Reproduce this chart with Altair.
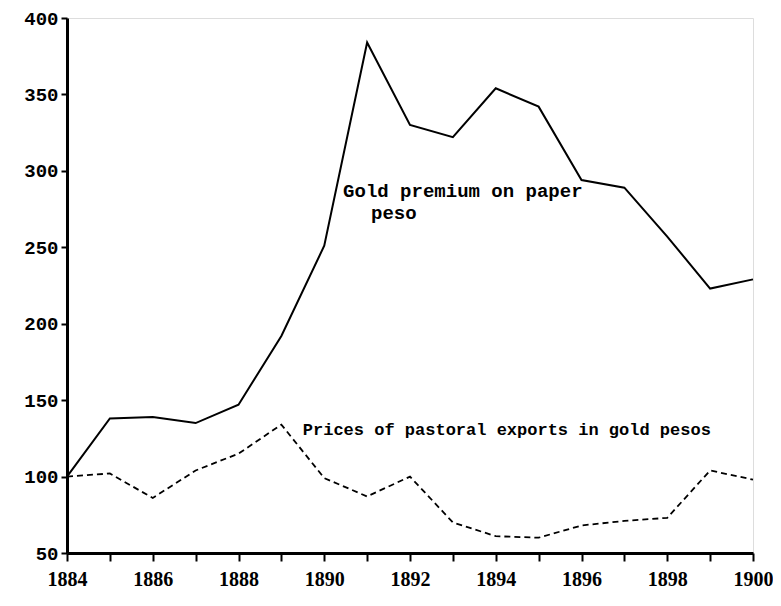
import altair as alt
import pandas as pd

years = list(range(1884, 1901))
gold_premium = [100, 138, 139, 135, 147, 192, 251, 384, 330, 322, 354, 342, 294, 289, 257, 223, 229]
pastoral = [100, 102, 86, 104, 115, 134, 99, 87, 100, 70, 61, 60, 68, 71, 73, 104, 98]

label_text = ["Gold premium on paper", "peso", "Prices of pastoral exports in gold pesos"]
label_year = [1890.44, 1891.09, 1889.5]
label_value = [287, 272.5, 130.4]
label_size = [19, 19, 17]

df = pd.DataFrame({"year": years, "gold": gold_premium, "pastoral": pastoral})
labels = pd.DataFrame({"text": label_text, "year": label_year, "value": label_value, "size": label_size})

xscale = alt.Scale(domain=[1884, 1900], nice=False, zero=False)
yscale = alt.Scale(domain=[50, 400], nice=False, zero=False)

xaxis = alt.Axis(values=years, labelExpr="datum.value % 2 == 0 ? datum.label : ''",
                 format="d", title=None, grid=False, tickSize=8, tickWidth=2, tickColor="black",
                 domainColor="black", domainWidth=3, labelFont="Liberation Serif", labelFontWeight="bold",
                 labelFontSize=20, labelColor="black", labelPadding=8, labelFlush=False)
yaxis = alt.Axis(values=[50, 100, 150, 200, 250, 300, 350, 400], title=None, grid=False,
                 tickSize=6, tickWidth=2, tickColor="black", domainColor="black", domainWidth=3,
                 labelFont="Liberation Mono", labelFontWeight="bold", labelFontSize=19,
                 labelColor="black", labelPadding=3)

base = alt.Chart(df)
gold_line = base.mark_line(color="black", strokeWidth=2).encode(
    x=alt.X("year:Q", scale=xscale, axis=xaxis),
    y=alt.Y("gold:Q", scale=yscale, axis=yaxis),
)
past_line = base.mark_line(color="black", strokeWidth=1.8, strokeDash=[6, 4]).encode(
    x=alt.X("year:Q", scale=xscale),
    y=alt.Y("pastoral:Q", scale=yscale),
)
text = alt.Chart(labels).mark_text(align="left", baseline="middle", font="Liberation Mono",
                                   fontWeight="bold", color="black").encode(
    x=alt.X("year:Q", scale=xscale),
    y=alt.Y("value:Q", scale=yscale),
    text="text:N",
    size=alt.Size("size:Q", scale=None, legend=None),
)

chart = alt.layer(gold_line, past_line, text).properties(
    width=686, height=535,
    autosize=alt.AutoSizeParams(type="none"),
    padding={"left": 59, "top": 10, "right": 20, "bottom": 45},
).configure_view(stroke="black", strokeWidth=3).configure(background="white")

chart.save("out.html", embed_options={"renderer": "svg", "actions": False})
